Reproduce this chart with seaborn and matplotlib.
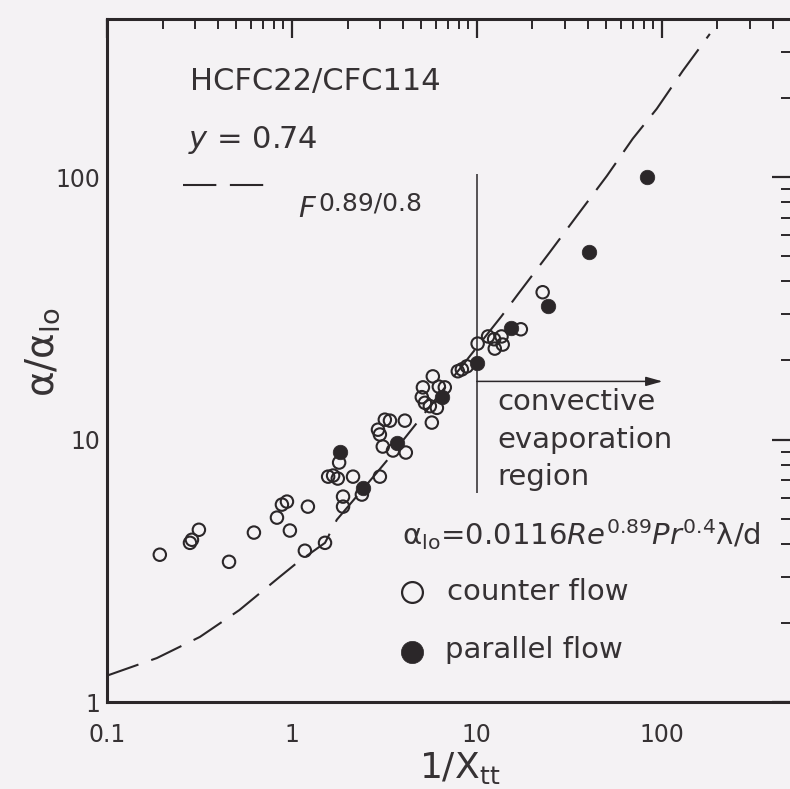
import numpy as np
import pandas as pd
import matplotlib
matplotlib.use("Agg")
import matplotlib.pyplot as plt
from matplotlib.ticker import FixedLocator, FixedFormatter, LogLocator, NullFormatter
import seaborn as sns

# ---------------- data ----------------
counter_x = [0.193, 0.281, 0.288, 0.314, 0.457, 0.623, 0.830, 0.883, 0.94, 0.975,
             1.22, 1.175, 1.51, 1.80, 1.67, 1.57, 1.77, 2.14, 2.39, 1.89,
             1.89, 2.99, 2.99, 2.92, 3.18, 3.39, 4.08, 5.71, 3.52, 4.13,
             3.10, 5.11, 5.04, 5.24, 5.57, 5.78, 6.23, 6.71, 6.08, 7.89,
             8.30, 8.83, 10.1, 11.5, 12.4, 12.5, 13.6, 13.8, 17.3, 22.7]
counter_y = [3.64, 4.04, 4.15, 4.53, 3.42, 4.42, 5.04, 5.65, 5.80, 4.50,
             5.55, 3.77, 4.04, 8.17, 7.29, 7.22, 7.10, 7.22, 6.17, 6.06,
             5.55, 7.22, 10.45, 10.9, 11.9, 11.8, 11.8, 11.6, 9.08, 8.92,
             9.40, 15.8, 14.5, 13.8, 13.4, 17.4, 15.9, 15.8, 13.2, 18.2,
             18.5, 19.0, 23.2, 24.7, 24.1, 22.2, 24.7, 23.0, 26.3, 36.4]

parallel_x = [1.82, 2.42, 3.70, 6.47, 10.0, 15.3, 24.2, 40.3, 83.0]
parallel_y = [9.0, 6.56, 9.74, 14.5, 19.5, 26.5, 32.2, 51.7, 100.0]

curve_x = [0.10, 0.186, 0.318, 0.52, 0.86, 1.065, 1.51, 1.75, 2.88, 3.30,
           13.6, 16.7, 24.8, 34.7, 50.5, 69.7, 94.0, 130.0, 182.0]
curve_y = [1.26, 1.47, 1.77, 2.24, 3.0, 3.39, 4.04, 4.95, 7.48, 8.39,
           29.5, 35.8, 51.7, 71.0, 101.0, 140.0, 182.0, 254.0, 351.0]

x_ticks = [0.1, 1, 10, 100]
x_tick_labels = ["0.1", "1", "10", "100"]
y_ticks = [1, 10, 100]
y_tick_labels = ["1", "10", "100"]

# ---------------- style ----------------
BG = "#f4f2f4"
DARK = "#2b2729"
TXT = "#363234"

sns.set_theme(style="white")
plt.rcParams["font.family"] = ["DejaVu Sans"]
plt.rcParams["mathtext.fontset"] = "dejavusans"
plt.rcParams["text.color"] = TXT

W, H = 790, 789
fig = plt.figure(figsize=(W / 100, H / 100), dpi=100, facecolor=BG)
L, R, T, B = 107, 791, 19, 702
ax = fig.add_axes([L / W, 1 - B / H, (R - L) / W, (B - T) / H])
ax.set_facecolor(BG)


def axf(px, py):
    return ((px - L) / (R - L), (B - py) / (B - T))


ax.set_xscale("log")
ax.set_yscale("log")

curve = pd.DataFrame({"x": curve_x, "y": curve_y})
sns.lineplot(data=curve, x="x", y="y", ax=ax, sort=False, estimator=None,
             color=DARK, lw=1.5, linestyle=(0, (16, 6.5)))

counter = pd.DataFrame({"x": counter_x, "y": counter_y})
parallel = pd.DataFrame({"x": parallel_x, "y": parallel_y})
sns.scatterplot(data=counter, x="x", y="y", ax=ax, marker="o", s=80,
                facecolor="none", edgecolor=DARK, linewidth=1.5, zorder=3)
sns.scatterplot(data=parallel, x="x", y="y", ax=ax, marker="o", s=110,
                color=DARK, edgecolor=DARK, linewidth=0.5, zorder=4)

ax.set_xlim(0.1, 500)
ax.set_ylim(1, 400)

ax.xaxis.set_major_locator(FixedLocator(x_ticks))
ax.xaxis.set_major_formatter(FixedFormatter(x_tick_labels))
ax.yaxis.set_major_locator(FixedLocator(y_ticks))
ax.yaxis.set_major_formatter(FixedFormatter(y_tick_labels))
ax.xaxis.set_minor_locator(LogLocator(base=10, subs=np.arange(2, 10), numticks=20))
ax.yaxis.set_minor_locator(LogLocator(base=10, subs=np.arange(2, 10), numticks=20))
ax.xaxis.set_minor_formatter(NullFormatter())
ax.yaxis.set_minor_formatter(NullFormatter())

ax.tick_params(which="both", direction="in", top=True, right=True,
               color=DARK, labelcolor=TXT)
ax.tick_params(which="major", length=14, width=1.6, labelsize=17)
ax.tick_params(which="minor", length=7, width=1.4)
ax.tick_params(axis="x", which="major", pad=15)
ax.tick_params(axis="y", which="major", pad=5)
for sp in ax.spines.values():
    sp.set_linewidth(2.2)
    sp.set_color(DARK)
ax.spines["right"].set_visible(False)

ax.set_xlabel(r"$\mathregular{1/X_{tt}}$", fontsize=26, color=TXT)
ax.set_ylabel(r"$\mathregular{α/α_{lo}}$", fontsize=28, color=TXT)
ax.xaxis.set_label_coords(*axf(460, 768))
ax.xaxis.label.set_va("center")
ax.yaxis.set_label_coords(*axf(43, 352))
ax.yaxis.label.set_va("center")

# annotations
ax.text(*axf(190, 82), "HCFC22/CFC114", transform=ax.transAxes,
        fontsize=22, va="center", ha="left")
ax.text(*axf(188, 140), r"$y$ = 0.74", transform=ax.transAxes,
        fontsize=22, va="center", ha="left")
(sx0, sy), (sx1, _) = axf(183, 185), axf(267, 185)
ax.plot([sx0, sx1], [sy, sy], transform=ax.transAxes, color=DARK, lw=1.5,
        linestyle=(0, (16, 6.5)))
ax.text(*axf(298, 209), "F", transform=ax.transAxes, fontsize=21,
        style="italic", va="center", ha="left")
ax.text(*axf(318, 204), "0.89/0.8", transform=ax.transAxes, fontsize=18,
        va="center", ha="left")

# convective region marker
ax.vlines(10, 6.27, 102.6, color=DARK, lw=1.1)
ax.annotate("", xy=(101, 16.65), xytext=(10, 16.65),
            arrowprops=dict(arrowstyle="-|>,head_length=0.5,head_width=0.14",
                            mutation_scale=20, lw=1.1, color=DARK,
                            shrinkA=0, shrinkB=0))
for txt, py in [("convective", 402), ("evaporation", 440), ("region", 477)]:
    ax.text(*axf(497, py), txt, transform=ax.transAxes, fontsize=21,
            va="center", ha="left")

ax.text(*axf(402, 545),
        r"$\mathregular{α_{lo}}$=0.0116$Re^{0.89}Pr^{0.4}$λ/d",
        transform=ax.transAxes, fontsize=21, va="baseline", ha="left",
        clip_on=False)

# legend
ax.plot(*axf(412, 592), marker="o", ms=15, mfc="none", mec=DARK, mew=1.6,
        transform=ax.transAxes, clip_on=False)
ax.plot(*axf(412, 652), marker="o", ms=16, mfc=DARK, mec=DARK, mew=0.5,
        transform=ax.transAxes, clip_on=False)
ax.text(*axf(447, 592), "counter flow", transform=ax.transAxes, fontsize=21,
        va="center", ha="left")
ax.text(*axf(445, 650), "parallel flow", transform=ax.transAxes, fontsize=21,
        va="center", ha="left")

fig.savefig("out.png", dpi=100, facecolor=BG)
